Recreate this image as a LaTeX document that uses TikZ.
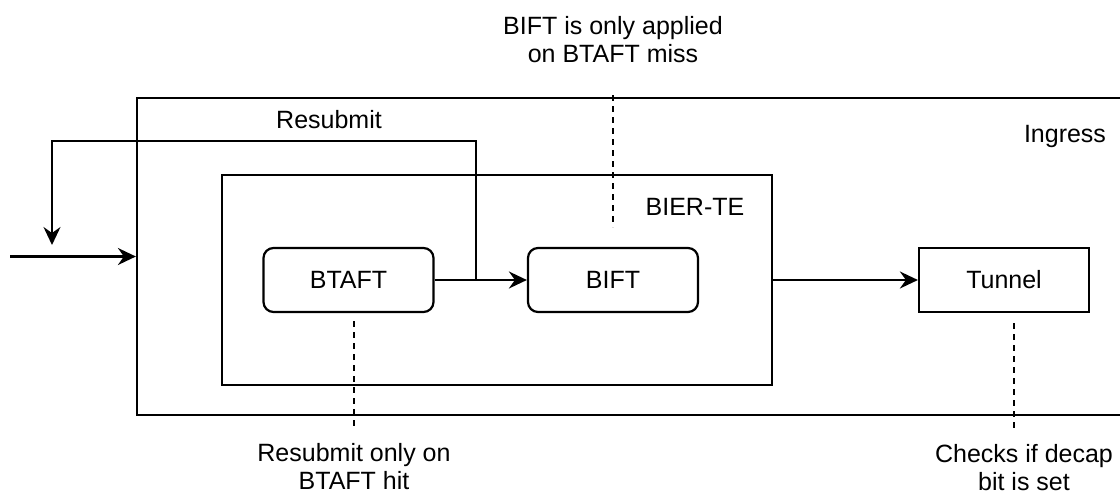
\documentclass[tikz,border=0pt]{standalone}
\usepackage{fontspec}
\setmainfont{Liberation Sans}
\usetikzlibrary{arrows.meta, positioning}

\begin{document}
\begin{tikzpicture}[x=1pt,y=-1pt,line width=2.2pt,
    >={Stealth[length=18pt,width=17pt,inset=6pt]},
    every node/.style={font=\fontsize{25}{28}\selectfont},
    frame/.style={draw, inner sep=0pt},
    box/.style={draw, minimum width=170pt, minimum height=64pt, inner sep=0pt},
    table/.style={box, rounded corners=10pt},
    note/.style={align=center, inner sep=0pt},
    notelink/.style={dash pattern=on 6pt off 5pt}]
    \useasboundingbox (0,0) rectangle (1120,496);

    % frames
    \node[frame, minimum width=993pt, minimum height=317pt] (ingress) at (633.5,256.5) {};
    \node[frame, minimum width=550pt, minimum height=210pt] (bierte) at (497,280) {};
    \node (ingresslabel) at (1065,136) {Ingress};
    \node (bierlabel) at (695,207) {BIER-TE};

    % tables
    \node[table] (btaft) at (348.5,280) {BTAFT};
    \node[table] (bift) at (613,280) {BIFT};
    \node[box] (tunnel) at (1004,280) {Tunnel};

    % notes
    \node[note] (biftnote) at (613,40) {BIFT is only applied\\on BTAFT miss};
    \node[note] (btaftnote) at (354,467) {Resubmit only on\\BTAFT hit};
    \node[note] (tunnelnote) at (1024,468) {Checks if decap\\bit is set};
    \node (resubmitlabel) at (329,120) {Resubmit};

    \coordinate (src) at (10,256.5);
    \coordinate (split) at (476,280);
    \coordinate (resubmitend) at (52,245);
    \coordinate (biftmarka) at (613,95);
    \coordinate (biftmarkb) at (613,227);
    \coordinate (btaftmarka) at (354,321);
    \coordinate (btaftmarkb) at (354,430);
    \coordinate (tunnelmarka) at (1014,323);
    \coordinate (tunnelmarkb) at (1014,430);

    \draw[->] (src) -- (ingress.west);
    \draw[->] (btaft) -- (bift);
    \draw[->] (bierte) -- (tunnel);
    \draw[->] (split) -- ++(0,-139) -| (resubmitend);

    \draw[notelink] (biftmarka) -- (biftmarkb);
    \draw[notelink] (btaftmarka) -- (btaftmarkb);
    \draw[notelink] (tunnelmarka) -- (tunnelmarkb);
\end{tikzpicture}
\end{document}
